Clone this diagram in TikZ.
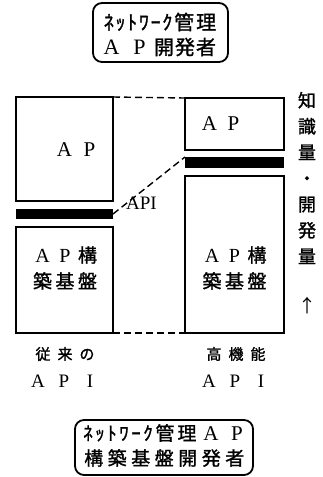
\documentclass[tikz,border=0pt]{standalone}
\usepackage{fontspec}
\newfontfamily\jp{Noto Sans CJK JP}
\newfontfamily\jpb{Noto Sans CJK JP}[FakeBold=1.3]
\newfontfamily\lat{Liberation Serif}
\def\cjstop{\cjstopmark}
\newcommand\cj[2]{\def\cjpitch{#1}\cjloop#2\cjstopmark}
\def\cjloop#1{\def\cjtmp{#1}\ifx\cjtmp\cjstop\else\makebox[\cjpitch]{#1}\expandafter\cjloop\fi}
\newcommand\fs[1]{\fontsize{#1}{#1}\selectfont}
\begin{document}
\begin{tikzpicture}[x=1pt,y=-1pt,
  box/.style={draw,line width=2pt,inner sep=0pt,outer sep=0pt},
  barbox/.style={fill=black,inner sep=0pt,outer sep=0pt},
  rbox/.style={draw,line width=1.8pt,rounded corners=9pt,inner sep=0pt,outer sep=0pt},
  dline/.style={line width=1.4pt,dash pattern=on 7pt off 4pt},
  lbl/.style={inner sep=0pt,outer sep=0pt}]
\useasboundingbox (0,0) rectangle (323,477);
% top rounded box
\node[rbox,minimum width=135pt,minimum height=59pt] (top) at (160.5,32.5) {};
\node[lbl,anchor=west] (top1) at (103,22) {\jpb\fs{20}\cj{11.7pt}{ﾈｯﾄﾜｰｸ}\cj{22pt}{管理}};
\node[lbl,anchor=west] (top2) at (97.5,47) {\jpb\fs{20}\cj{28pt}{{\lat\fs{22}A}{\lat\fs{22}P}}\cj{21pt}{開発者}};
% left column
\node[box,minimum width=97pt,minimum height=104pt] (lap) at (64.5,149) {};
\node[barbox,minimum width=97pt,minimum height=10pt] (lbar) at (64.5,214) {};
\node[box,minimum width=97pt,minimum height=106pt] (llo) at (64.5,280) {};
% right column
\node[box,minimum width=99pt,minimum height=52pt] (rap) at (234.5,124) {};
\node[barbox,minimum width=99pt,minimum height=11pt] (rbar) at (234.5,162.5) {};
\node[box,minimum width=99pt,minimum height=157pt] (rlo) at (234.5,254.5) {};
% texts in boxes
\node[lbl] (lapt) at (77,149.5) {\lat\fs{21}\cj{25pt}{AP}};
\node[lbl] (rapt) at (221.5,124) {\lat\fs{21}\cj{24pt}{AP}};
\node[lbl,align=center,font={\jpb\fontsize{19}{26}\selectfont}] (llot) at (65,268) {%
  \cj{22.5pt}{{\lat\fs{20}A}{\lat\fs{20}P}構}\\\cj{22.5pt}{築基盤}};
\node[lbl,align=center,font={\jpb\fontsize{19}{26}\selectfont}] (rlot) at (234.5,268) {%
  \cj{22.5pt}{{\lat\fs{20}A}{\lat\fs{20}P}構}\\\cj{22.5pt}{築基盤}};
% dashed connectors
\draw[dline] (lap.north east) -- (rap.north west);
\draw[dline] (llo.south east) -- (rlo.south west);
\draw[dline] (lbar.east) -- (rbar.north west);
\node[lbl] (api) at (141.5,203) {\lat\fs{19}API};
% right vertical text
\node[lbl,align=center,font={\jpb\fontsize{18}{26}\selectfont}] (knowl) at (307,178) {%
  知\\識\\量\\・\\開\\発\\量};
\node[lbl] (arrow) at (307,306) {\jp\fs{18}↑};
% lower labels
\node[lbl] (l1) at (65,354) {\jpb\fs{15}\cj{22pt}{従来の}};
\node[lbl] (l2) at (64,381) {\lat\fs{19}\cj{26pt}{API}};
\node[lbl] (r1) at (236,354) {\jpb\fs{15}\cj{22pt}{高機能}};
\node[lbl] (r2) at (235,381) {\lat\fs{19}\cj{26pt}{API}};
% bottom rounded box
\node[rbox,minimum width=178pt,minimum height=55pt] (bot) at (164,447.5) {};
\node[lbl,anchor=west] (bot1) at (82,433) {\jpb\fs{19}\cj{12pt}{ﾈｯﾄﾜｰｸ}\cj{22pt}{管理}\cj{26pt}{{\lat\fs{21}A}{\lat\fs{21}P}}};
\node[lbl,anchor=west] (bot2) at (82,458) {\jpb\fs{19}\cj{23.5pt}{構築基盤開発者}};
\end{tikzpicture}
\end{document}
